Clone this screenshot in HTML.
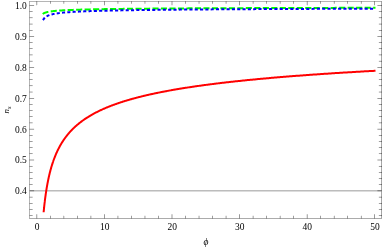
<!DOCTYPE html>
<html><head><meta charset="utf-8"><title>plot</title>
<style>
html,body{margin:0;padding:0;background:#fff;}
body{width:382px;height:249px;overflow:hidden;}
svg{display:block;}
text{font-family:"Liberation Serif",serif;font-size:10px;fill:#000;}
</style></head><body>
<svg width="382" height="249" viewBox="0 0 382 249">
<defs><mask id="m" maskUnits="userSpaceOnUse" x="0" y="0" width="382" height="249"><rect x="0" y="0" width="382" height="249" fill="#fff"/></mask></defs>
<rect x="0" y="0" width="382" height="249" fill="#fff"/>
<rect x="30" y="190" width="351" height="1" fill-opacity="0.264"/><rect x="30" y="191" width="351" height="1" fill-opacity="0.136"/>
<path d="M43.63 212.20 L43.64 212.06 L43.65 211.92 L43.67 211.76 L43.69 211.59 L43.70 211.40 L43.72 211.21 L43.74 211.00 L43.76 210.79 L43.79 210.56 L43.81 210.31 L43.83 210.06 L43.86 209.80 L43.89 209.52 L43.92 209.23 L43.95 208.94 L43.98 208.63 L44.01 208.31 L44.05 207.98 L44.08 207.64 L44.12 207.29 L44.16 206.93 L44.20 206.55 L44.24 206.17 L44.28 205.78 L44.32 205.38 L44.37 204.98 L44.42 204.56 L44.46 204.13 L44.51 203.70 L44.56 203.26 L44.62 202.81 L44.67 202.35 L44.73 201.89 L44.78 201.41 L44.84 200.94 L44.90 200.45 L44.96 199.96 L45.02 199.46 L45.09 198.96 L45.15 198.45 L45.22 197.93 L45.29 197.42 L45.36 196.89 L45.43 196.36 L45.51 195.83 L45.58 195.29 L45.66 194.75 L45.73 194.20 L45.81 193.65 L45.89 193.10 L45.98 192.55 L46.06 191.99 L46.15 191.43 L46.23 190.87 L46.32 190.30 L46.41 189.73 L46.50 189.16 L46.60 188.59 L46.69 188.02 L46.79 187.45 L46.89 186.87 L46.99 186.30 L47.09 185.72 L47.19 185.14 L47.30 184.57 L47.40 183.99 L47.51 183.41 L47.62 182.83 L47.73 182.25 L47.85 181.68 L47.96 181.10 L48.08 180.52 L48.20 179.95 L48.31 179.37 L48.44 178.80 L48.56 178.22 L48.68 177.65 L48.81 177.08 L48.94 176.51 L49.07 175.94 L49.20 175.37 L49.33 174.80 L49.47 174.24 L49.60 173.67 L49.74 173.11 L49.88 172.55 L50.02 171.99 L50.16 171.44 L50.31 170.88 L50.46 170.33 L50.60 169.78 L50.75 169.23 L50.91 168.68 L51.06 168.14 L51.21 167.60 L51.37 167.06 L51.53 166.52 L51.69 165.99 L51.85 165.45 L52.02 164.92 L52.18 164.40 L52.35 163.87 L52.52 163.35 L52.69 162.83 L52.86 162.31 L53.04 161.80 L53.21 161.28 L53.39 160.77 L53.57 160.27 L53.75 159.76 L53.94 159.26 L54.12 158.76 L54.31 158.26 L54.50 157.77 L54.69 157.28 L54.88 156.79 L55.07 156.30 L55.27 155.82 L55.47 155.34 L55.67 154.86 L55.87 154.38 L56.07 153.91 L56.28 153.44 L56.48 152.97 L56.69 152.51 L56.90 152.05 L57.11 151.59 L57.33 151.13 L57.54 150.68 L57.76 150.22 L57.98 149.77 L58.20 149.33 L58.42 148.88 L58.65 148.44 L58.88 148.01 L59.10 147.57 L59.34 147.14 L59.57 146.71 L59.80 146.28 L60.04 145.85 L60.28 145.43 L60.52 145.01 L60.76 144.59 L61.00 144.18 L61.25 143.76 L61.49 143.35 L61.74 142.94 L61.99 142.54 L62.25 142.14 L62.50 141.74 L62.76 141.34 L63.02 140.94 L63.28 140.55 L63.54 140.16 L63.80 139.77 L64.07 139.38 L64.34 139.00 L64.61 138.62 L64.88 138.24 L65.15 137.86 L65.43 137.49 L65.71 137.11 L65.99 136.74 L66.27 136.38 L66.55 136.01 L66.84 135.65 L67.12 135.29 L67.41 134.93 L67.70 134.57 L68.00 134.22 L68.29 133.86 L68.59 133.51 L68.89 133.16 L69.19 132.82 L69.49 132.47 L69.79 132.13 L70.10 131.79 L70.41 131.45 L70.72 131.12 L71.03 130.78 L71.35 130.45 L71.66 130.12 L71.98 129.79 L72.30 129.47 L72.62 129.14 L72.95 128.82 L73.27 128.50 L73.60 128.18 L73.93 127.86 L74.26 127.55 L74.59 127.23 L74.93 126.92 L75.27 126.61 L75.61 126.31 L75.95 126.00 L76.29 125.70 L76.64 125.39 L76.99 125.09 L77.34 124.79 L77.69 124.50 L78.04 124.20 L78.40 123.91 L78.75 123.62 L79.11 123.33 L79.48 123.04 L79.84 122.75 L80.20 122.46 L80.57 122.18 L80.94 121.90 L81.31 121.62 L81.69 121.34 L82.06 121.06 L82.44 120.78 L82.82 120.51 L83.20 120.24 L83.58 119.97 L83.97 119.70 L84.36 119.43 L84.75 119.16 L85.14 118.90 L85.53 118.63 L85.93 118.37 L86.33 118.11 L86.72 117.85 L87.13 117.59 L87.53 117.33 L87.94 117.08 L88.34 116.82 L88.75 116.57 L89.17 116.32 L89.58 116.07 L90.00 115.82 L90.41 115.57 L90.83 115.33 L91.26 115.08 L91.68 114.84 L92.11 114.60 L92.54 114.36 L92.97 114.12 L93.40 113.88 L93.83 113.64 L94.27 113.41 L94.71 113.17 L95.15 112.94 L95.59 112.71 L96.04 112.48 L96.48 112.25 L96.93 112.02 L97.38 111.79 L97.84 111.56 L98.29 111.34 L98.75 111.11 L99.21 110.89 L99.67 110.67 L100.13 110.45 L100.60 110.23 L101.06 110.01 L101.53 109.80 L102.01 109.58 L102.48 109.36 L102.96 109.15 L103.43 108.94 L103.91 108.73 L104.40 108.52 L104.88 108.31 L105.37 108.10 L105.85 107.89 L106.35 107.68 L106.84 107.48 L107.33 107.27 L107.83 107.07 L108.33 106.87 L108.83 106.67 L109.33 106.46 L109.84 106.27 L110.35 106.07 L110.85 105.87 L111.37 105.67 L111.88 105.48 L112.40 105.28 L112.91 105.09 L113.43 104.89 L113.96 104.70 L114.48 104.51 L115.01 104.32 L115.54 104.13 L116.07 103.94 L116.60 103.76 L117.13 103.57 L117.67 103.38 L118.21 103.20 L118.75 103.01 L119.30 102.83 L119.84 102.65 L120.39 102.47 L120.94 102.29 L121.49 102.11 L122.04 101.93 L122.60 101.75 L123.16 101.57 L123.72 101.40 L124.28 101.22 L124.85 101.04 L125.41 100.87 L125.98 100.70 L126.56 100.52 L127.13 100.35 L127.70 100.18 L128.28 100.01 L128.86 99.84 L129.44 99.67 L130.03 99.50 L130.62 99.34 L131.20 99.17 L131.79 99.00 L132.39 98.84 L132.98 98.67 L133.58 98.51 L134.18 98.35 L134.78 98.19 L135.38 98.02 L135.99 97.86 L136.60 97.70 L137.21 97.54 L137.82 97.38 L138.44 97.23 L139.05 97.07 L139.67 96.91 L140.29 96.76 L140.92 96.60 L141.54 96.45 L142.17 96.29 L142.80 96.14 L143.43 95.99 L144.07 95.83 L144.70 95.68 L145.34 95.53 L145.98 95.38 L146.63 95.23 L147.27 95.08 L147.92 94.93 L148.57 94.79 L149.22 94.64 L149.87 94.49 L150.53 94.35 L151.19 94.20 L151.85 94.06 L152.51 93.91 L153.18 93.77 L153.85 93.63 L154.51 93.48 L155.19 93.34 L155.86 93.20 L156.54 93.06 L157.21 92.92 L157.90 92.78 L158.58 92.64 L159.26 92.50 L159.95 92.36 L160.64 92.23 L161.33 92.09 L162.03 91.95 L162.72 91.82 L163.42 91.68 L164.12 91.55 L164.82 91.41 L165.53 91.28 L166.24 91.15 L166.95 91.01 L167.66 90.88 L168.37 90.75 L169.09 90.62 L169.81 90.49 L170.53 90.36 L171.25 90.23 L171.97 90.10 L172.70 89.97 L173.43 89.84 L174.16 89.72 L174.90 89.59 L175.63 89.46 L176.37 89.34 L177.11 89.21 L177.86 89.09 L178.60 88.96 L179.35 88.84 L180.10 88.71 L180.85 88.59 L181.61 88.47 L182.36 88.34 L183.12 88.22 L183.88 88.10 L184.65 87.98 L185.41 87.86 L186.18 87.74 L186.95 87.62 L187.72 87.50 L188.50 87.38 L189.27 87.26 L190.05 87.15 L190.83 87.03 L191.62 86.91 L192.40 86.79 L193.19 86.68 L193.98 86.56 L194.78 86.45 L195.57 86.33 L196.37 86.22 L197.17 86.10 L197.97 85.99 L198.77 85.88 L199.58 85.76 L200.39 85.65 L201.20 85.54 L202.01 85.43 L202.83 85.32 L203.65 85.20 L204.47 85.09 L205.29 84.98 L206.12 84.87 L206.94 84.77 L207.77 84.66 L208.60 84.55 L209.44 84.44 L210.27 84.33 L211.11 84.22 L211.95 84.12 L212.80 84.01 L213.64 83.90 L214.49 83.80 L215.34 83.69 L216.19 83.59 L217.05 83.48 L217.90 83.38 L218.76 83.27 L219.62 83.17 L220.49 83.07 L221.35 82.96 L222.22 82.86 L223.09 82.76 L223.97 82.66 L224.84 82.55 L225.72 82.45 L226.60 82.35 L227.48 82.25 L228.37 82.15 L229.25 82.05 L230.14 81.95 L231.04 81.85 L231.93 81.75 L232.83 81.65 L233.72 81.56 L234.62 81.46 L235.53 81.36 L236.43 81.26 L237.34 81.17 L238.25 81.07 L239.16 80.97 L240.08 80.88 L241.00 80.78 L241.92 80.68 L242.84 80.59 L243.76 80.49 L244.69 80.40 L245.62 80.31 L246.55 80.21 L247.48 80.12 L248.42 80.02 L249.36 79.93 L250.30 79.84 L251.24 79.75 L252.18 79.65 L253.13 79.56 L254.08 79.47 L255.03 79.38 L255.99 79.29 L256.95 79.20 L257.90 79.11 L258.87 79.02 L259.83 78.93 L260.80 78.84 L261.77 78.75 L262.74 78.66 L263.71 78.57 L264.69 78.48 L265.66 78.39 L266.64 78.31 L267.63 78.22 L268.61 78.13 L269.60 78.04 L270.59 77.96 L271.58 77.87 L272.58 77.78 L273.57 77.70 L274.57 77.61 L275.57 77.53 L276.58 77.44 L277.58 77.36 L278.59 77.27 L279.60 77.19 L280.62 77.10 L281.63 77.02 L282.65 76.93 L283.67 76.85 L284.69 76.77 L285.72 76.69 L286.75 76.60 L287.78 76.52 L288.81 76.44 L289.85 76.36 L290.88 76.27 L291.92 76.19 L292.96 76.11 L294.01 76.03 L295.06 75.95 L296.10 75.87 L297.16 75.79 L298.21 75.71 L299.27 75.63 L300.32 75.55 L301.39 75.47 L302.45 75.39 L303.51 75.31 L304.58 75.23 L305.65 75.16 L306.73 75.08 L307.80 75.00 L308.88 74.92 L309.96 74.84 L311.04 74.77 L312.13 74.69 L313.21 74.61 L314.30 74.54 L315.40 74.46 L316.49 74.38 L317.59 74.31 L318.69 74.23 L319.79 74.16 L320.89 74.08 L322.00 74.01 L323.11 73.93 L324.22 73.86 L325.33 73.78 L326.45 73.71 L327.57 73.63 L328.69 73.56 L329.81 73.49 L330.94 73.41 L332.07 73.34 L333.20 73.27 L334.33 73.19 L335.47 73.12 L336.60 73.05 L337.74 72.98 L338.89 72.90 L340.03 72.83 L341.18 72.76 L342.33 72.69 L343.48 72.62 L344.64 72.55 L345.79 72.48 L346.95 72.41 L348.12 72.34 L349.28 72.27 L350.45 72.20 L351.62 72.13 L352.79 72.06 L353.96 71.99 L355.14 71.92 L356.32 71.85 L357.50 71.78 L358.68 71.71 L359.87 71.64 L361.06 71.57 L362.25 71.51 L363.44 71.44 L364.64 71.37 L365.84 71.30 L367.04 71.23 L368.24 71.17 L369.45 71.10 L370.66 71.03 L371.87 70.97 L373.08 70.90 L374.30 70.83 L375.51 70.77" stroke="#f00" stroke-width="2" fill="none" stroke-linejoin="round"/>
<path d="M43.55 13.39 L43.55 13.39 L43.56 13.38 L43.56 13.38 L43.57 13.38 L43.58 13.37 L43.59 13.37 L43.60 13.36 L43.61 13.35 L43.63 13.35 L43.65 13.33 L43.68 13.32 L43.70 13.31 L43.73 13.30 L43.76 13.28 L43.80 13.26 L43.83 13.25 L43.87 13.23 L43.92 13.21 L43.96 13.18 L44.01 13.16 L44.06 13.14 L44.12 13.11 L44.18 13.09 L44.24 13.06 L44.30 13.03 L44.37 13.01 L44.44 12.98 L44.51 12.95 L44.59 12.91 L44.67 12.88 L44.75 12.85 L44.84 12.82 L44.93 12.78 L45.02 12.75 L45.12 12.72 L45.22 12.68 L45.32 12.65 L45.43 12.61 L45.54 12.57 L45.65 12.54 L45.77 12.50 L45.89 12.47 L46.02 12.43 L46.14 12.39 L46.27 12.35 L46.41 12.32 L46.55 12.28 L46.69 12.24 L46.84 12.20 L46.98 12.17 L47.14 12.13 L47.29 12.09 L47.45 12.06 L47.62 12.02 L47.78 11.98 L47.96 11.94 L48.13 11.91 L48.31 11.87 L48.49 11.83 L48.68 11.80 L48.87 11.76 L49.06 11.73 L49.26 11.69 L49.46 11.66 L49.66 11.62 L49.87 11.59 L50.09 11.55 L50.30 11.52 L50.52 11.48 L50.75 11.45 L50.97 11.42 L51.21 11.38 L51.44 11.35 L51.68 11.32 L51.92 11.28 L52.17 11.25 L52.42 11.22 L52.68 11.19 L52.94 11.16 L53.20 11.13 L53.47 11.10 L53.74 11.07 L54.02 11.04 L54.29 11.01 L54.58 10.98 L54.87 10.95 L55.16 10.92 L55.45 10.89 L55.75 10.86 L56.06 10.83 L56.36 10.81 L56.67 10.78 L56.99 10.75 L57.31 10.73 L57.63 10.70 L57.96 10.67 L58.29 10.65 L58.63 10.62 L58.97 10.59 L59.32 10.57 L59.67 10.54 L60.02 10.52 L60.38 10.50 L60.74 10.47 L61.10 10.45 L61.47 10.42 L61.85 10.40 L62.22 10.38 L62.61 10.35 L62.99 10.33 L63.38 10.31 L63.78 10.29 L64.18 10.26 L64.58 10.24 L64.99 10.22 L65.40 10.20 L65.82 10.18 L66.24 10.16 L66.67 10.14 L67.09 10.12 L67.53 10.09 L67.97 10.07 L68.41 10.05 L68.86 10.03 L69.31 10.02 L69.76 10.00 L70.22 9.98 L70.69 9.96 L71.15 9.94 L71.63 9.92 L72.10 9.90 L72.59 9.88 L73.07 9.87 L73.56 9.85 L74.06 9.83 L74.56 9.81 L75.06 9.79 L75.57 9.78 L76.08 9.76 L76.60 9.74 L77.12 9.73 L77.65 9.71 L78.18 9.69 L78.71 9.68 L79.25 9.66 L79.79 9.65 L80.34 9.63 L80.90 9.61 L81.45 9.60 L82.01 9.58 L82.58 9.57 L83.15 9.55 L83.73 9.54 L84.31 9.52 L84.89 9.51 L85.48 9.49 L86.07 9.48 L86.67 9.46 L87.28 9.45 L87.88 9.44 L88.49 9.42 L89.11 9.41 L89.73 9.39 L90.36 9.38 L90.99 9.37 L91.62 9.35 L92.26 9.34 L92.91 9.33 L93.55 9.31 L94.21 9.30 L94.86 9.29 L95.53 9.28 L96.19 9.26 L96.87 9.25 L97.54 9.24 L98.22 9.23 L98.91 9.21 L99.60 9.20 L100.29 9.19 L100.99 9.18 L101.70 9.17 L102.41 9.15 L103.12 9.14 L103.84 9.13 L104.56 9.12 L105.29 9.11 L106.02 9.10 L106.76 9.09 L107.50 9.08 L108.25 9.06 L109.00 9.05 L109.76 9.04 L110.52 9.03 L111.28 9.02 L112.05 9.01 L112.83 9.00 L113.61 8.99 L114.39 8.98 L115.18 8.97 L115.98 8.96 L116.78 8.95 L117.58 8.94 L118.39 8.93 L119.20 8.92 L120.02 8.91 L120.84 8.90 L121.67 8.89 L122.50 8.88 L123.34 8.87 L124.18 8.86 L125.03 8.85 L125.88 8.84 L126.74 8.83 L127.60 8.82 L128.47 8.81 L129.34 8.81 L130.22 8.80 L131.10 8.79 L131.98 8.78 L132.87 8.77 L133.77 8.76 L134.67 8.75 L135.58 8.74 L136.49 8.74 L137.40 8.73 L138.32 8.72 L139.25 8.71 L140.18 8.70 L141.11 8.69 L142.05 8.68 L142.99 8.68 L143.94 8.67 L144.90 8.66 L145.86 8.65 L146.82 8.64 L147.79 8.64 L148.77 8.63 L149.74 8.62 L150.73 8.61 L151.72 8.61 L152.71 8.60 L153.71 8.59 L154.71 8.58 L155.72 8.57 L156.74 8.57 L157.76 8.56 L158.78 8.55 L159.81 8.55 L160.84 8.54 L161.88 8.53 L162.93 8.52 L163.97 8.52 L165.03 8.51 L166.09 8.50 L167.15 8.50 L168.22 8.49 L169.29 8.48 L170.37 8.47 L171.46 8.47 L172.54 8.46 L173.64 8.45 L174.74 8.45 L175.84 8.44 L176.95 8.43 L178.06 8.43 L179.18 8.42 L180.31 8.41 L181.44 8.41 L182.57 8.40 L183.71 8.39 L184.86 8.39 L186.01 8.38 L187.16 8.38 L188.32 8.37 L189.49 8.36 L190.66 8.36 L191.83 8.35 L193.01 8.34 L194.20 8.34 L195.39 8.33 L196.58 8.33 L197.78 8.32 L198.99 8.31 L200.20 8.31 L201.42 8.30 L202.64 8.30 L203.86 8.29 L205.09 8.29 L206.33 8.28 L207.57 8.27 L208.82 8.27 L210.07 8.26 L211.33 8.26 L212.59 8.25 L213.86 8.25 L215.13 8.24 L216.41 8.23 L217.69 8.23 L218.98 8.22 L220.27 8.22 L221.57 8.21 L222.88 8.21 L224.18 8.20 L225.50 8.20 L226.82 8.19 L228.14 8.19 L229.47 8.18 L230.81 8.18 L232.15 8.17 L233.49 8.17 L234.84 8.16 L236.20 8.16 L237.56 8.15 L238.93 8.15 L240.30 8.14 L241.67 8.14 L243.06 8.13 L244.44 8.13 L245.84 8.12 L247.23 8.12 L248.64 8.11 L250.04 8.11 L251.46 8.10 L252.88 8.10 L254.30 8.09 L255.73 8.09 L257.16 8.08 L258.60 8.08 L260.05 8.07 L261.50 8.07 L262.95 8.06 L264.42 8.06 L265.88 8.05 L267.35 8.05 L268.83 8.05 L270.31 8.04 L271.80 8.04 L273.29 8.03 L274.79 8.03 L276.29 8.02 L277.80 8.02 L279.32 8.01 L280.84 8.01 L282.36 8.01 L283.89 8.00 L285.43 8.00 L286.97 7.99 L288.51 7.99 L290.06 7.98 L291.62 7.98 L293.18 7.98 L294.75 7.97 L296.32 7.97 L297.90 7.96 L299.48 7.96 L301.07 7.95 L302.67 7.95 L304.27 7.95 L305.87 7.94 L307.48 7.94 L309.10 7.93 L310.72 7.93 L312.34 7.93 L313.97 7.92 L315.61 7.92 L317.25 7.91 L318.90 7.91 L320.56 7.91 L322.21 7.90 L323.88 7.90 L325.55 7.89 L327.22 7.89 L328.90 7.89 L330.59 7.88 L332.28 7.88 L333.98 7.88 L335.68 7.87 L337.39 7.87 L339.10 7.86 L340.82 7.86 L342.54 7.86 L344.27 7.85 L346.00 7.85 L347.74 7.85 L349.49 7.84 L351.24 7.84 L353.00 7.84 L354.76 7.83 L356.53 7.83 L358.30 7.82 L360.08 7.82 L361.86 7.82 L363.65 7.81 L365.44 7.81 L367.24 7.81 L369.05 7.80 L370.86 7.80 L372.68 7.80 L374.50 7.79" stroke="#0f0" stroke-width="2" fill="none" stroke-dasharray="4.1 4.386" stroke-linecap="square" stroke-linejoin="round"/>
<path d="M43.55 19.33 L43.55 19.33 L43.56 19.32 L43.56 19.32 L43.57 19.31 L43.58 19.29 L43.59 19.27 L43.60 19.25 L43.61 19.23 L43.63 19.20 L43.65 19.16 L43.68 19.13 L43.70 19.08 L43.73 19.04 L43.76 18.99 L43.80 18.94 L43.83 18.88 L43.87 18.82 L43.92 18.76 L43.96 18.70 L44.01 18.63 L44.06 18.56 L44.12 18.49 L44.18 18.41 L44.24 18.34 L44.30 18.26 L44.37 18.18 L44.44 18.10 L44.51 18.02 L44.59 17.93 L44.67 17.85 L44.75 17.76 L44.84 17.68 L44.93 17.59 L45.02 17.50 L45.12 17.41 L45.22 17.32 L45.32 17.24 L45.43 17.15 L45.54 17.06 L45.65 16.97 L45.77 16.89 L45.89 16.80 L46.02 16.71 L46.14 16.63 L46.27 16.54 L46.41 16.46 L46.55 16.37 L46.69 16.29 L46.84 16.20 L46.98 16.12 L47.14 16.04 L47.29 15.96 L47.45 15.88 L47.62 15.80 L47.78 15.72 L47.96 15.65 L48.13 15.57 L48.31 15.49 L48.49 15.42 L48.68 15.35 L48.87 15.27 L49.06 15.20 L49.26 15.13 L49.46 15.06 L49.66 14.99 L49.87 14.92 L50.09 14.85 L50.30 14.79 L50.52 14.72 L50.75 14.66 L50.97 14.59 L51.21 14.53 L51.44 14.47 L51.68 14.41 L51.92 14.35 L52.17 14.29 L52.42 14.23 L52.68 14.17 L52.94 14.11 L53.20 14.06 L53.47 14.00 L53.74 13.95 L54.02 13.89 L54.29 13.84 L54.58 13.78 L54.87 13.73 L55.16 13.68 L55.45 13.63 L55.75 13.58 L56.06 13.53 L56.36 13.48 L56.67 13.43 L56.99 13.39 L57.31 13.34 L57.63 13.29 L57.96 13.25 L58.29 13.20 L58.63 13.16 L58.97 13.11 L59.32 13.07 L59.67 13.03 L60.02 12.99 L60.38 12.94 L60.74 12.90 L61.10 12.86 L61.47 12.82 L61.85 12.78 L62.22 12.74 L62.61 12.70 L62.99 12.67 L63.38 12.63 L63.78 12.59 L64.18 12.55 L64.58 12.52 L64.99 12.48 L65.40 12.45 L65.82 12.41 L66.24 12.38 L66.67 12.34 L67.09 12.31 L67.53 12.27 L67.97 12.24 L68.41 12.21 L68.86 12.17 L69.31 12.14 L69.76 12.11 L70.22 12.08 L70.69 12.05 L71.15 12.02 L71.63 11.99 L72.10 11.96 L72.59 11.93 L73.07 11.90 L73.56 11.87 L74.06 11.84 L74.56 11.81 L75.06 11.78 L75.57 11.76 L76.08 11.73 L76.60 11.70 L77.12 11.67 L77.65 11.65 L78.18 11.62 L78.71 11.60 L79.25 11.57 L79.79 11.54 L80.34 11.52 L80.90 11.49 L81.45 11.47 L82.01 11.44 L82.58 11.42 L83.15 11.40 L83.73 11.37 L84.31 11.35 L84.89 11.32 L85.48 11.30 L86.07 11.28 L86.67 11.26 L87.28 11.23 L87.88 11.21 L88.49 11.19 L89.11 11.17 L89.73 11.14 L90.36 11.12 L90.99 11.10 L91.62 11.08 L92.26 11.06 L92.91 11.04 L93.55 11.02 L94.21 11.00 L94.86 10.98 L95.53 10.96 L96.19 10.94 L96.87 10.92 L97.54 10.90 L98.22 10.88 L98.91 10.86 L99.60 10.84 L100.29 10.82 L100.99 10.80 L101.70 10.79 L102.41 10.77 L103.12 10.75 L103.84 10.73 L104.56 10.71 L105.29 10.70 L106.02 10.68 L106.76 10.66 L107.50 10.64 L108.25 10.63 L109.00 10.61 L109.76 10.59 L110.52 10.58 L111.28 10.56 L112.05 10.54 L112.83 10.53 L113.61 10.51 L114.39 10.49 L115.18 10.48 L115.98 10.46 L116.78 10.45 L117.58 10.43 L118.39 10.42 L119.20 10.40 L120.02 10.38 L120.84 10.37 L121.67 10.35 L122.50 10.34 L123.34 10.32 L124.18 10.31 L125.03 10.30 L125.88 10.28 L126.74 10.27 L127.60 10.25 L128.47 10.24 L129.34 10.22 L130.22 10.21 L131.10 10.20 L131.98 10.18 L132.87 10.17 L133.77 10.16 L134.67 10.14 L135.58 10.13 L136.49 10.12 L137.40 10.10 L138.32 10.09 L139.25 10.08 L140.18 10.06 L141.11 10.05 L142.05 10.04 L142.99 10.03 L143.94 10.01 L144.90 10.00 L145.86 9.99 L146.82 9.98 L147.79 9.96 L148.77 9.95 L149.74 9.94 L150.73 9.93 L151.72 9.92 L152.71 9.90 L153.71 9.89 L154.71 9.88 L155.72 9.87 L156.74 9.86 L157.76 9.85 L158.78 9.84 L159.81 9.82 L160.84 9.81 L161.88 9.80 L162.93 9.79 L163.97 9.78 L165.03 9.77 L166.09 9.76 L167.15 9.75 L168.22 9.74 L169.29 9.73 L170.37 9.72 L171.46 9.70 L172.54 9.69 L173.64 9.68 L174.74 9.67 L175.84 9.66 L176.95 9.65 L178.06 9.64 L179.18 9.63 L180.31 9.62 L181.44 9.61 L182.57 9.60 L183.71 9.59 L184.86 9.58 L186.01 9.57 L187.16 9.56 L188.32 9.55 L189.49 9.55 L190.66 9.54 L191.83 9.53 L193.01 9.52 L194.20 9.51 L195.39 9.50 L196.58 9.49 L197.78 9.48 L198.99 9.47 L200.20 9.46 L201.42 9.45 L202.64 9.44 L203.86 9.44 L205.09 9.43 L206.33 9.42 L207.57 9.41 L208.82 9.40 L210.07 9.39 L211.33 9.38 L212.59 9.37 L213.86 9.37 L215.13 9.36 L216.41 9.35 L217.69 9.34 L218.98 9.33 L220.27 9.32 L221.57 9.32 L222.88 9.31 L224.18 9.30 L225.50 9.29 L226.82 9.28 L228.14 9.28 L229.47 9.27 L230.81 9.26 L232.15 9.25 L233.49 9.24 L234.84 9.24 L236.20 9.23 L237.56 9.22 L238.93 9.21 L240.30 9.20 L241.67 9.20 L243.06 9.19 L244.44 9.18 L245.84 9.17 L247.23 9.17 L248.64 9.16 L250.04 9.15 L251.46 9.15 L252.88 9.14 L254.30 9.13 L255.73 9.12 L257.16 9.12 L258.60 9.11 L260.05 9.10 L261.50 9.09 L262.95 9.09 L264.42 9.08 L265.88 9.07 L267.35 9.07 L268.83 9.06 L270.31 9.05 L271.80 9.05 L273.29 9.04 L274.79 9.03 L276.29 9.03 L277.80 9.02 L279.32 9.01 L280.84 9.01 L282.36 9.00 L283.89 8.99 L285.43 8.99 L286.97 8.98 L288.51 8.97 L290.06 8.97 L291.62 8.96 L293.18 8.95 L294.75 8.95 L296.32 8.94 L297.90 8.93 L299.48 8.93 L301.07 8.92 L302.67 8.92 L304.27 8.91 L305.87 8.90 L307.48 8.90 L309.10 8.89 L310.72 8.88 L312.34 8.88 L313.97 8.87 L315.61 8.87 L317.25 8.86 L318.90 8.85 L320.56 8.85 L322.21 8.84 L323.88 8.84 L325.55 8.83 L327.22 8.83 L328.90 8.82 L330.59 8.81 L332.28 8.81 L333.98 8.80 L335.68 8.80 L337.39 8.79 L339.10 8.79 L340.82 8.78 L342.54 8.77 L344.27 8.77 L346.00 8.76 L347.74 8.76 L349.49 8.75 L351.24 8.75 L353.00 8.74 L354.76 8.74 L356.53 8.73 L358.30 8.72 L360.08 8.72 L361.86 8.71 L363.65 8.71 L365.44 8.70 L367.24 8.70 L369.05 8.69 L370.86 8.69 L372.68 8.68 L374.50 8.68" stroke="#00f" stroke-width="2" fill="none" stroke-dasharray="1.1 4.211" stroke-linecap="square" stroke-linejoin="round"/>
<rect x="29.355" y="1" width="352.290" height="1" fill-opacity="0.290"/><rect x="29.355" y="218" width="352.290" height="1" fill-opacity="0.330"/>
<path d="M29.355 1.350h0.290v217.050h-0.290z M381.325 1.350h0.350v217.050h-0.350z" fill="#000"/>
<path d="M36.700 214.200h0.400v4.200h-0.400z M36.700 1.350h0.400v4.000h-0.400z M104.250 214.200h0.400v4.200h-0.400z M104.250 1.350h0.400v4.000h-0.400z M171.800 214.200h0.400v4.200h-0.400z M171.800 1.350h0.400v4.000h-0.400z M239.350 214.200h0.400v4.200h-0.400z M239.350 1.350h0.400v4.000h-0.400z M306.900 214.200h0.400v4.200h-0.400z M306.900 1.350h0.400v4.000h-0.400z M374.450 214.200h0.400v4.200h-0.400z M374.450 1.350h0.400v4.000h-0.400z" fill="#000"/>
<path d="M50.220 215.800h0.380v2.600h-0.380z M50.220 1.350h0.380v2.300h-0.380z M63.730 215.800h0.380v2.600h-0.380z M63.730 1.350h0.380v2.300h-0.380z M77.240 215.800h0.380v2.600h-0.380z M77.240 1.350h0.380v2.300h-0.380z M90.750 215.800h0.380v2.600h-0.380z M90.750 1.350h0.380v2.300h-0.380z M117.770 215.800h0.380v2.600h-0.380z M117.770 1.350h0.380v2.300h-0.380z M131.280 215.800h0.380v2.600h-0.380z M131.280 1.350h0.380v2.300h-0.380z M144.790 215.800h0.380v2.600h-0.380z M144.790 1.350h0.380v2.300h-0.380z M158.300 215.800h0.380v2.600h-0.380z M158.300 1.350h0.380v2.300h-0.380z M185.320 215.800h0.380v2.600h-0.380z M185.320 1.350h0.380v2.300h-0.380z M198.830 215.800h0.380v2.600h-0.380z M198.830 1.350h0.380v2.300h-0.380z M212.340 215.800h0.380v2.600h-0.380z M212.340 1.350h0.380v2.300h-0.380z M225.850 215.800h0.380v2.600h-0.380z M225.850 1.350h0.380v2.300h-0.380z M252.870 215.800h0.380v2.600h-0.380z M252.870 1.350h0.380v2.300h-0.380z M266.380 215.800h0.380v2.600h-0.380z M266.380 1.350h0.380v2.300h-0.380z M279.890 215.800h0.380v2.600h-0.380z M279.890 1.350h0.380v2.300h-0.380z M293.400 215.800h0.380v2.600h-0.380z M293.400 1.350h0.380v2.300h-0.380z M320.420 215.800h0.380v2.600h-0.380z M320.420 1.350h0.380v2.300h-0.380z M333.930 215.800h0.380v2.600h-0.380z M333.930 1.350h0.380v2.300h-0.380z M347.440 215.800h0.380v2.600h-0.380z M347.440 1.350h0.380v2.300h-0.380z M360.950 215.800h0.380v2.600h-0.380z M360.950 1.350h0.380v2.300h-0.380z" fill="#000"/>
<rect x="29.500" y="215" width="3.150" height="1" fill-opacity="0.380"/>
<rect x="378.850" y="215" width="3.150" height="1" fill-opacity="0.380"/>
<rect x="29.500" y="209" width="3.150" height="1" fill-opacity="0.380"/>
<rect x="378.850" y="209" width="3.150" height="1" fill-opacity="0.380"/>
<rect x="29.500" y="203" width="3.150" height="1" fill-opacity="0.380"/>
<rect x="378.850" y="203" width="3.150" height="1" fill-opacity="0.380"/>
<rect x="29.500" y="196" width="3.150" height="1" fill-opacity="0.110"/><rect x="29.500" y="197" width="3.150" height="1" fill-opacity="0.270"/>
<rect x="378.850" y="196" width="3.150" height="1" fill-opacity="0.110"/><rect x="378.850" y="197" width="3.150" height="1" fill-opacity="0.270"/>
<rect x="29.500" y="190" width="4.600" height="1" fill-opacity="0.300"/><rect x="29.500" y="191" width="4.600" height="1" fill-opacity="0.100"/>
<rect x="377.400" y="190" width="4.600" height="1" fill-opacity="0.300"/><rect x="377.400" y="191" width="4.600" height="1" fill-opacity="0.100"/>
<rect x="29.500" y="184" width="3.150" height="1" fill-opacity="0.380"/>
<rect x="378.850" y="184" width="3.150" height="1" fill-opacity="0.380"/>
<rect x="29.500" y="178" width="3.150" height="1" fill-opacity="0.380"/>
<rect x="378.850" y="178" width="3.150" height="1" fill-opacity="0.380"/>
<rect x="29.500" y="172" width="3.150" height="1" fill-opacity="0.380"/>
<rect x="378.850" y="172" width="3.150" height="1" fill-opacity="0.380"/>
<rect x="29.500" y="165" width="3.150" height="1" fill-opacity="0.010"/><rect x="29.500" y="166" width="3.150" height="1" fill-opacity="0.370"/>
<rect x="378.850" y="165" width="3.150" height="1" fill-opacity="0.010"/><rect x="378.850" y="166" width="3.150" height="1" fill-opacity="0.370"/>
<rect x="29.500" y="159" width="4.600" height="1" fill-opacity="0.200"/><rect x="29.500" y="160" width="4.600" height="1" fill-opacity="0.200"/>
<rect x="377.400" y="159" width="4.600" height="1" fill-opacity="0.200"/><rect x="377.400" y="160" width="4.600" height="1" fill-opacity="0.200"/>
<rect x="29.500" y="153" width="3.150" height="1" fill-opacity="0.370"/><rect x="29.500" y="154" width="3.150" height="1" fill-opacity="0.010"/>
<rect x="378.850" y="153" width="3.150" height="1" fill-opacity="0.370"/><rect x="378.850" y="154" width="3.150" height="1" fill-opacity="0.010"/>
<rect x="29.500" y="147" width="3.150" height="1" fill-opacity="0.380"/>
<rect x="378.850" y="147" width="3.150" height="1" fill-opacity="0.380"/>
<rect x="29.500" y="141" width="3.150" height="1" fill-opacity="0.380"/>
<rect x="378.850" y="141" width="3.150" height="1" fill-opacity="0.380"/>
<rect x="29.500" y="135" width="3.150" height="1" fill-opacity="0.380"/>
<rect x="378.850" y="135" width="3.150" height="1" fill-opacity="0.380"/>
<rect x="29.500" y="128" width="4.600" height="1" fill-opacity="0.100"/><rect x="29.500" y="129" width="4.600" height="1" fill-opacity="0.300"/>
<rect x="377.400" y="128" width="4.600" height="1" fill-opacity="0.100"/><rect x="377.400" y="129" width="4.600" height="1" fill-opacity="0.300"/>
<rect x="29.500" y="122" width="3.150" height="1" fill-opacity="0.270"/><rect x="29.500" y="123" width="3.150" height="1" fill-opacity="0.110"/>
<rect x="378.850" y="122" width="3.150" height="1" fill-opacity="0.270"/><rect x="378.850" y="123" width="3.150" height="1" fill-opacity="0.110"/>
<rect x="29.500" y="116" width="3.150" height="1" fill-opacity="0.380"/>
<rect x="378.850" y="116" width="3.150" height="1" fill-opacity="0.380"/>
<rect x="29.500" y="110" width="3.150" height="1" fill-opacity="0.380"/>
<rect x="378.850" y="110" width="3.150" height="1" fill-opacity="0.380"/>
<rect x="29.500" y="104" width="3.150" height="1" fill-opacity="0.380"/>
<rect x="378.850" y="104" width="3.150" height="1" fill-opacity="0.380"/>
<rect x="29.500" y="98" width="4.600" height="1" fill-opacity="0.400"/>
<rect x="377.400" y="98" width="4.600" height="1" fill-opacity="0.400"/>
<rect x="29.500" y="91" width="3.150" height="1" fill-opacity="0.170"/><rect x="29.500" y="92" width="3.150" height="1" fill-opacity="0.210"/>
<rect x="378.850" y="91" width="3.150" height="1" fill-opacity="0.170"/><rect x="378.850" y="92" width="3.150" height="1" fill-opacity="0.210"/>
<rect x="29.500" y="85" width="3.150" height="1" fill-opacity="0.350"/><rect x="29.500" y="86" width="3.150" height="1" fill-opacity="0.030"/>
<rect x="378.850" y="85" width="3.150" height="1" fill-opacity="0.350"/><rect x="378.850" y="86" width="3.150" height="1" fill-opacity="0.030"/>
<rect x="29.500" y="79" width="3.150" height="1" fill-opacity="0.380"/>
<rect x="378.850" y="79" width="3.150" height="1" fill-opacity="0.380"/>
<rect x="29.500" y="73" width="3.150" height="1" fill-opacity="0.380"/>
<rect x="378.850" y="73" width="3.150" height="1" fill-opacity="0.380"/>
<rect x="29.500" y="67" width="4.600" height="1" fill-opacity="0.400"/>
<rect x="377.400" y="67" width="4.600" height="1" fill-opacity="0.400"/>
<rect x="29.500" y="60" width="3.150" height="1" fill-opacity="0.070"/><rect x="29.500" y="61" width="3.150" height="1" fill-opacity="0.310"/>
<rect x="378.850" y="60" width="3.150" height="1" fill-opacity="0.070"/><rect x="378.850" y="61" width="3.150" height="1" fill-opacity="0.310"/>
<rect x="29.500" y="54" width="3.150" height="1" fill-opacity="0.250"/><rect x="29.500" y="55" width="3.150" height="1" fill-opacity="0.130"/>
<rect x="378.850" y="54" width="3.150" height="1" fill-opacity="0.250"/><rect x="378.850" y="55" width="3.150" height="1" fill-opacity="0.130"/>
<rect x="29.500" y="48" width="3.150" height="1" fill-opacity="0.380"/>
<rect x="378.850" y="48" width="3.150" height="1" fill-opacity="0.380"/>
<rect x="29.500" y="42" width="3.150" height="1" fill-opacity="0.380"/>
<rect x="378.850" y="42" width="3.150" height="1" fill-opacity="0.380"/>
<rect x="29.500" y="36" width="4.600" height="1" fill-opacity="0.400"/>
<rect x="377.400" y="36" width="4.600" height="1" fill-opacity="0.400"/>
<rect x="29.500" y="30" width="3.150" height="1" fill-opacity="0.380"/>
<rect x="378.850" y="30" width="3.150" height="1" fill-opacity="0.380"/>
<rect x="29.500" y="23" width="3.150" height="1" fill-opacity="0.150"/><rect x="29.500" y="24" width="3.150" height="1" fill-opacity="0.230"/>
<rect x="378.850" y="23" width="3.150" height="1" fill-opacity="0.150"/><rect x="378.850" y="24" width="3.150" height="1" fill-opacity="0.230"/>
<rect x="29.500" y="17" width="3.150" height="1" fill-opacity="0.330"/><rect x="29.500" y="18" width="3.150" height="1" fill-opacity="0.050"/>
<rect x="378.850" y="17" width="3.150" height="1" fill-opacity="0.330"/><rect x="378.850" y="18" width="3.150" height="1" fill-opacity="0.050"/>
<rect x="29.500" y="11" width="3.150" height="1" fill-opacity="0.380"/>
<rect x="378.850" y="11" width="3.150" height="1" fill-opacity="0.380"/>
<rect x="29.500" y="5" width="4.600" height="1" fill-opacity="0.400"/>
<rect x="377.400" y="5" width="4.600" height="1" fill-opacity="0.400"/>
<g mask="url(#m)">
<text transform="translate(26.80,8.90) scale(0.95,1)" text-anchor="end">1.0</text>
<text transform="translate(26.80,39.80) scale(0.95,1)" text-anchor="end">0.9</text>
<text transform="translate(26.80,70.70) scale(0.95,1)" text-anchor="end">0.8</text>
<text transform="translate(26.80,101.60) scale(0.95,1)" text-anchor="end">0.7</text>
<text transform="translate(26.80,132.50) scale(0.95,1)" text-anchor="end">0.6</text>
<text transform="translate(26.80,163.40) scale(0.95,1)" text-anchor="end">0.5</text>
<text transform="translate(26.80,194.30) scale(0.95,1)" text-anchor="end">0.4</text>
<text transform="translate(37.15,230.30) scale(0.95,1)" text-anchor="middle">0</text>
<text transform="translate(104.70,230.30) scale(0.95,1)" text-anchor="middle">10</text>
<text transform="translate(172.25,230.30) scale(0.95,1)" text-anchor="middle">20</text>
<text transform="translate(239.80,230.30) scale(0.95,1)" text-anchor="middle">30</text>
<text transform="translate(307.35,230.30) scale(0.95,1)" text-anchor="middle">40</text>
<text transform="translate(374.90,230.30) scale(0.95,1)" text-anchor="middle">50</text>
<text transform="translate(8.6,110.0) rotate(-90)" text-anchor="middle" font-style="italic" style="font-size:9px">n<tspan font-size="6.5" dy="1.9">s</tspan></text>
<text x="205.9" y="244.8" text-anchor="middle" font-style="italic" style="font-size:9.5px">&#981;</text>
</g>
</svg>
</body></html>
